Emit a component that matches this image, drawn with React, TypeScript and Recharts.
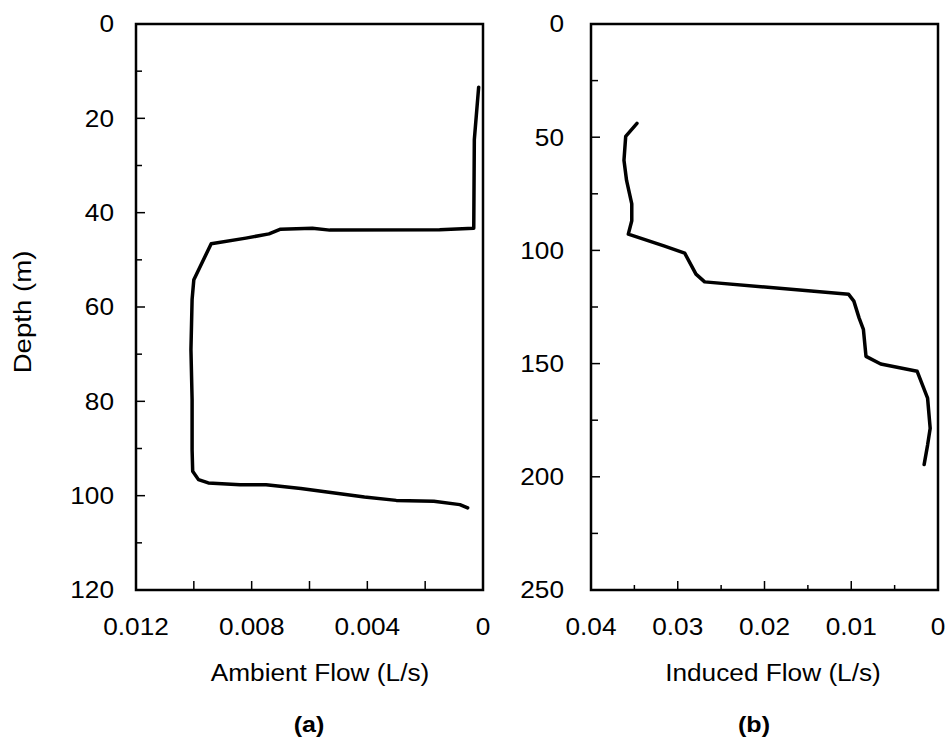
import { LineChart, Line, XAxis, YAxis, CartesianGrid } from "recharts";

// panel (a) ambient flow profile
const ambientDepth = [
  13.4, 24.5, 43.3, 43.6, 43.7, 43.3, 43.5, 44.5, 45.4, 46.6, 54.2, 58.4, 69, 79.6, 90.3,
  94.8, 96.6, 97.3, 97.7, 97.7, 98.5, 99.4, 100.3, 101, 101.2, 101.9, 102.6,
];
const ambientFlow = [
  0.00015, 0.0003, 0.00032, 0.0015, 0.0053, 0.0059, 0.007, 0.0074, 0.0082, 0.0094, 0.01,
  0.01006, 0.0101, 0.01006, 0.01006, 0.01004, 0.00984, 0.0095, 0.0084, 0.0075, 0.0063, 0.0052,
  0.0041, 0.003, 0.0017, 0.0008, 0.00053,
];

// panel (b) induced flow profile
const inducedDepth = [
  43.9, 49.6, 60.2, 69.1, 79.5, 86.9, 92.8, 98, 101.2, 110.5, 113.9, 119.4, 122.4, 129.8,
  134.9, 146.8, 150.2, 153.4, 165.3, 178.6, 186, 194.6,
];
const inducedFlow = [
  0.0347, 0.036, 0.0362, 0.0359, 0.0353, 0.0353, 0.0357, 0.0316, 0.0292, 0.0279, 0.0269,
  0.0103, 0.0097, 0.0091, 0.0086, 0.0083, 0.0066, 0.0024, 0.0012, 0.0009, 0.0012, 0.0016,
];

// ticks (every other one gets a label)
const depthTicksA = [0, 10, 20, 30, 40, 50, 60, 70, 80, 90, 100, 110, 120];
const flowTicksA = [0, 0.002, 0.004, 0.006, 0.008, 0.01, 0.012];
const depthTicksB = [0, 25, 50, 75, 100, 125, 150, 175, 200, 225, 250];
const flowTicksB = [0, 0.005, 0.01, 0.015, 0.02, 0.025, 0.03, 0.035, 0.04];

const ambientData = ambientDepth.map((d, i) => ({ depth: d, flow: ambientFlow[i] }));
const inducedData = inducedDepth.map((d, i) => ({ depth: d, flow: inducedFlow[i] }));

const FONT = '"Liberation Sans", Arial, Helvetica, sans-serif';
const SX = 1.14;

function makeLeftTick(gap: number, majorLen: number, minorLen: number) {
  return (props: any) => {
    const { x, y, payload, index } = props;
    const major = index % 2 === 0;
    return (
      <g>
        <line x1={x} x2={x + (major ? majorLen : minorLen)} y1={y} y2={y} stroke="#000" strokeWidth={1.5} />
        {major && (
          <text
            transform={`translate(${x - gap},${y + 8.3}) scale(${SX},1)`}
            textAnchor="end"
            fontFamily={FONT}
            fontSize={23}
            fill="#000"
          >
            {payload.value}
          </text>
        )}
      </g>
    );
  };
}

function makeBottomTick(majorLen: number, minorLen: number) {
  return (props: any) => {
    const { x, y, payload, index } = props;
    const major = index % 2 === 0;
    return (
      <g>
        <line x1={x} x2={x} y1={y} y2={y - (major ? majorLen : minorLen)} stroke="#000" strokeWidth={1.5} />
        {major && (
          <text
            transform={`translate(${x},${y + 45}) scale(${SX},1)`}
            textAnchor="middle"
            fontFamily={FONT}
            fontSize={23}
            fill="#000"
          >
            {payload.value}
          </text>
        )}
      </g>
    );
  };
}

const frame = { stroke: "#000", strokeWidth: 2 };

function Profile({
  data,
  xMax,
  yMax,
  xTicks,
  yTicks,
  yWidth,
  right,
  gap,
  xMinor,
  yMinor,
}: {
  data: { depth: number; flow: number }[];
  xMax: number;
  yMax: number;
  xTicks: number[];
  yTicks: number[];
  yWidth: number;
  right: number;
  gap: number;
  xMinor: number;
  yMinor: number;
}) {
  return (
    <LineChart
      width={yWidth + 347 + right}
      height={650}
      data={data}
      layout="vertical"
      margin={{ top: 24, right, bottom: 0, left: 0 }}
    >
      {/* top and right edges of the plot box */}
      <CartesianGrid
        stroke="#000"
        strokeWidth={2}
        strokeOpacity={1}
        horizontalCoordinatesGenerator={({ offset }: any) => [offset.top]}
        verticalCoordinatesGenerator={({ offset }: any) => [offset.left + offset.width]}
      />
      <XAxis
        type="number"
        dataKey="flow"
        domain={[0, xMax]}
        reversed
        ticks={xTicks}
        interval={0}
        height={60}
        tickSize={0}
        tickMargin={0}
        tickLine={false}
        axisLine={frame}
        tick={makeBottomTick(9, xMinor)}
        allowDataOverflow
      />
      <YAxis
        type="number"
        dataKey="depth"
        domain={[0, yMax]}
        ticks={yTicks}
        interval={0}
        width={yWidth}
        tickSize={0}
        tickMargin={0}
        tickLine={false}
        axisLine={frame}
        tick={makeLeftTick(gap, 9, yMinor)}
        allowDataOverflow
      />
      <Line
        dataKey="flow"
        type="linear"
        dot={false}
        stroke="#000"
        strokeWidth={3.5}
        strokeLinejoin="round"
        strokeLinecap="round"
        isAnimationActive={false}
      />
    </LineChart>
  );
}

const textBase: React.CSSProperties = {
  position: "absolute",
  fontFamily: FONT,
  color: "#000",
  whiteSpace: "nowrap",
};

export default function App() {
  return (
    <div style={{ position: "absolute", left: 0, top: 0, width: 949, height: 739, background: "#fff" }}>
      <div style={{ position: "absolute", left: 0, top: 0 }}>
        <Profile data={ambientData} xMax={0.012} yMax={120} xTicks={flowTicksA} yTicks={depthTicksA} yWidth={136} right={17} gap={22} xMinor={9} yMinor={6} />
      </div>
      <div style={{ position: "absolute", left: 500, top: 0 }}>
        <Profile data={inducedData} xMax={0.04} yMax={250} xTicks={flowTicksB} yTicks={depthTicksB} yWidth={91} right={11} gap={27} xMinor={5} yMinor={7} />
      </div>
      {/* plot boxes, drawn again on top */}
      <svg width={949} height={739} style={{ position: "absolute", left: 0, top: 0, pointerEvents: "none" }}>
        <rect x={136} y={24} width={347} height={566} fill="none" stroke="#000" strokeWidth={2.5} />
        <rect x={591} y={24} width={347} height={566} fill="none" stroke="#000" strokeWidth={2.5} />
      </svg>
      <div
        style={{
          ...textBase,
          left: 23,
          top: 312,
          fontSize: 23,
          lineHeight: "23px",
          transform: `translate(-50%, -50%) rotate(-90deg) scaleX(${SX + 0.06})`,
        }}
      >
        Depth (m)
      </div>
      <div style={{ ...textBase, left: 320, top: 662, fontSize: 23, lineHeight: "23px", transform: `translateX(-50%) scaleX(${SX})` }}>
        Ambient Flow (L/s)
      </div>
      <div style={{ ...textBase, left: 773, top: 662, fontSize: 23, lineHeight: "23px", transform: `translateX(-50%) scaleX(${SX})` }}>
        Induced Flow (L/s)
      </div>
      <div style={{ ...textBase, left: 309, top: 714, fontSize: 22, fontWeight: "bold", lineHeight: "22px", transform: `translateX(-50%) scaleX(${SX})` }}>
        (a)
      </div>
      <div style={{ ...textBase, left: 754, top: 714, fontSize: 22, fontWeight: "bold", lineHeight: "22px", transform: `translateX(-50%) scaleX(${SX})` }}>
        (b)
      </div>
    </div>
  );
}
